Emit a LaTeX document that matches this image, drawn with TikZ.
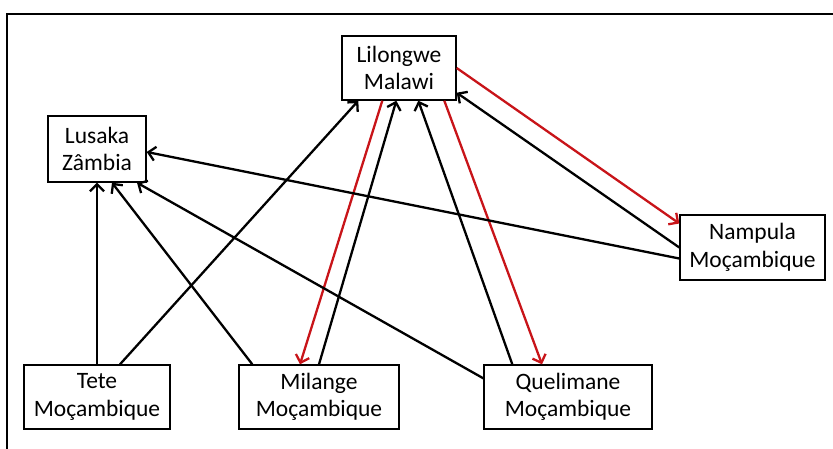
\documentclass[tikz,border=0pt]{standalone}
\usepackage{fontspec}
\setmainfont{Carlito}
\usetikzlibrary{arrows.meta}

\definecolor{linkred}{RGB}{200,20,25}

\tikzstyle{place}=[draw, line width=1.4pt, fill=white, align=center, inner sep=0pt,
  minimum height=64pt, font=\fontsize{23.5}{27.5}\selectfont]
\tikzstyle{arrow}=[line width=2.3pt, -{Straight Barb[length=7pt, width=14pt]}]
\tikzstyle{redarrow}=[arrow, linkred]

\begin{document}
\begin{tikzpicture}[x=1pt, y=-1pt]
      \useasboundingbox (0, 0) rectangle (833, 448);
      \clip (0, 0) rectangle (833, 448);
      \draw[line width=2.6pt] (7, 14) rectangle (850, 470);

      \node[place, minimum width=114pt] (lil) at (399, 68) {Lilongwe\\Malawi};
      \node[place, minimum width=98pt, minimum height=66pt] (lus) at (97, 149) {Lusaka\\Zâmbia};
      \node[place, minimum width=145pt, minimum height=65pt] (nam) at (752.5, 247.5) {Nampula\\Moçambique};
      \node[place, minimum width=146pt] (tet) at (97, 397) {Tete\\Moçambique};
      \node[place, minimum width=160pt] (mil) at (319, 397) {Milange\\Moçambique};
      \node[place, minimum width=168pt] (que) at (568, 397) {Quelimane\\Moçambique};

      \draw[arrow] (tet.north) to (lus.south);
      \draw[arrow] ([xshift=23pt]tet.north) to ([xshift=17pt]lil.south west);
      \draw[arrow] ([xshift=14pt]mil.north west) to ([xshift=15pt]lus.south);
      \draw[arrow] (mil.north) to ([xshift=55pt]lil.south west);
      \draw[redarrow] ([xshift=41pt]lil.south west) to ([xshift=-19pt]mil.north);
      \draw[arrow] ([yshift=-14pt]que.north west) to ([xshift=40pt]lus.south);
      \draw[arrow] ([xshift=29pt]que.north west) to ([xshift=77pt]lil.south west);
      \draw[redarrow] ([xshift=103pt]lil.south west) to ([xshift=-26pt]que.north);
      \draw[arrow] ([yshift=-11pt]nam.west) to ([yshift=-3pt]lus.east);
      \draw[arrow] (nam.west) to ([yshift=8pt]lil.south east);
      \draw[redarrow] (lil.east) to ([yshift=24pt]nam.west);
    \end{tikzpicture}
\end{document}
